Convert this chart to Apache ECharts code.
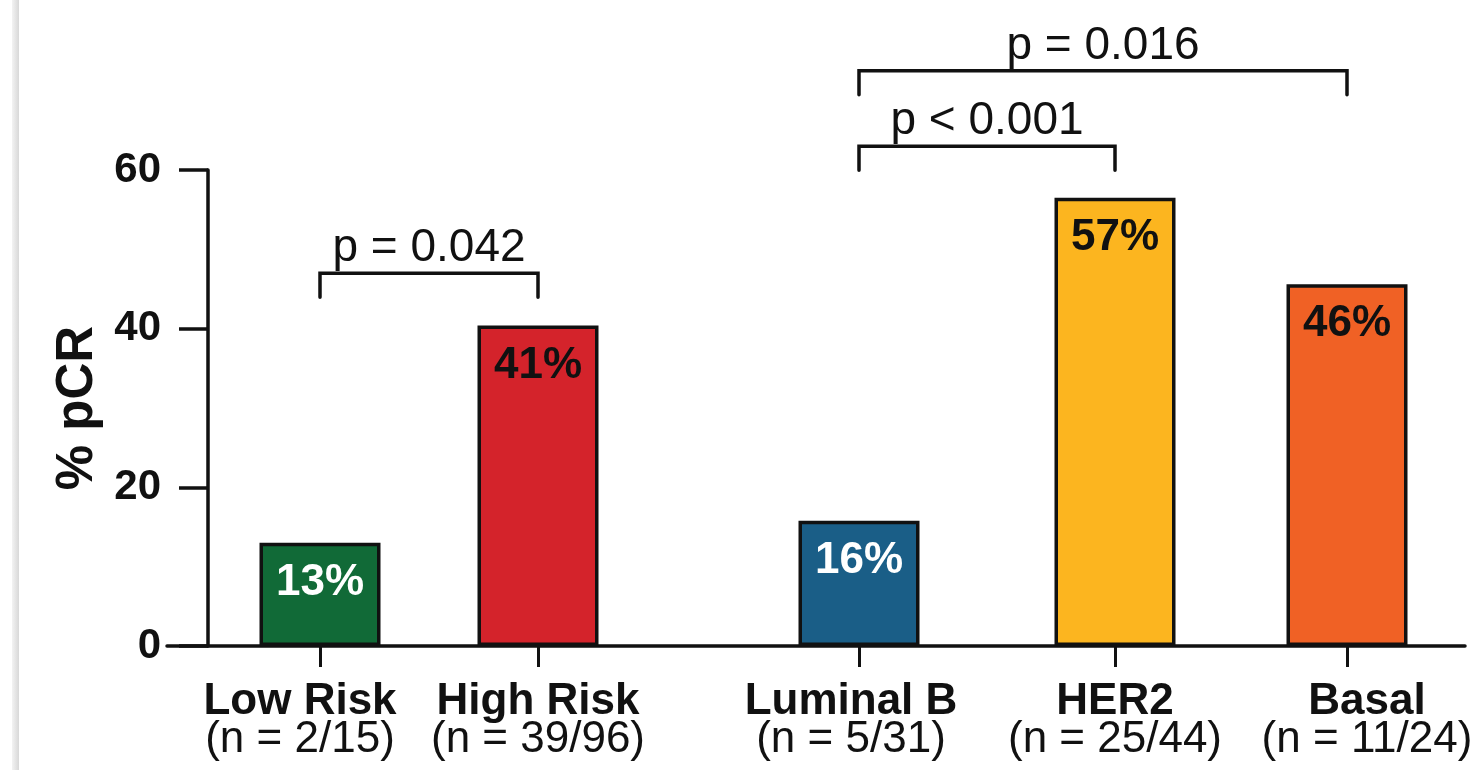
<!DOCTYPE html>
<html>
<head>
<meta charset="utf-8">
<script src="https://cdn.jsdelivr.net/npm/echarts@6/dist/echarts.min.js"></script>
<style>
  html, body { margin: 0; padding: 0; background: #fff; }
  #chart { width: 1483px; height: 770px; }
</style>
</head>
<body>
<div id="chart"></div>
<script>
// ---- data ----
const categories = ['Low Risk', 'High Risk', 'Luminal B', 'HER2', 'Basal'];
const nLabels = ['2/15', '39/96', '5/31', '25/44', '11/24'];
const pcrValues = [13.0, 40.4, 15.8, 56.5, 45.6];
const pcrLabels = ['13%', '41%', '16%', '57%', '46%'];
const yTicks = [0, 20, 40, 60];
const pTexts = ['p = 0.042', 'p < 0.001', 'p = 0.016'];
const pFrom = [0, 2, 2];
const pTo = [1, 3, 4];
const pLevel = [47.0, 63.0, 72.5];

// ---- layout / style ----
const slotX = [1.12, 3.30, 6.51, 9.07, 11.39]; // horizontal slot of each group on the layout axis
const labelShift = [-20, 0, -8, 0, 20];        // px nudge of each category label
const barColors = ['#116a37', '#d4232b', '#1a5e87', '#fcb51f', '#f06125'];
const labelColors = ['#ffffff', '#111111', '#ffffff', '#111111', '#111111'];
const FONT = '"Liberation Sans", Arial, Helvetica, sans-serif';
const INK = '#111111';

const chart = echarts.init(document.getElementById('chart'), null, { renderer: 'canvas' });

const barData = pcrValues.map((v, i) => ({
  value: [slotX[i], v],
  itemStyle: { color: barColors[i] },
  label: { color: labelColors[i] }
}));

const bracketData = pFrom.map((f, i) => [slotX[f], slotX[pTo[i]], pLevel[i]]);

function nearestIndex(v) {
  let best = 0;
  for (let i = 1; i < slotX.length; i++) {
    if (Math.abs(slotX[i] - v) < Math.abs(slotX[best] - v)) best = i;
  }
  return best;
}

const rich = {};
labelShift.forEach((s, i) => {
  const pad = [0, -s, 0, s];
  rich['b' + i] = { fontFamily: FONT, fontSize: 44, fontWeight: 'bold', color: INK, lineHeight: 38, padding: pad };
  rich['n' + i] = { fontFamily: FONT, fontSize: 44, fontWeight: 'normal', color: INK, lineHeight: 38, padding: pad };
});

const option = {
  backgroundColor: '#ffffff',
  animation: false,
  textStyle: { fontFamily: FONT },
  grid: { left: 167, right: 18, top: 170, bottom: 124, containLabel: false, outerBoundsMode: 'none' },
  xAxis: {
    type: 'value',
    min: -0.41,
    max: 12.57,
    splitLine: { show: false },
    axisLine: { show: true, onZero: true, lineStyle: { color: INK, width: 3.5 } },
    axisTick: { show: true, customValues: slotX, interval: 0, length: 21, lineStyle: { color: INK, width: 3 } },
    axisLabel: {
      show: true,
      customValues: slotX,
      interval: 0,
      hideOverlap: false,
      showMinLabel: true,
      showMaxLabel: true,
      margin: 37,
      formatter: function (v) {
        const i = nearestIndex(v);
        return '{b' + i + '|' + categories[i] + '}\n{n' + i + '|(n = ' + nLabels[i] + ')}';
      },
      rich: rich
    }
  },
  yAxis: {
    type: 'value',
    min: 0,
    max: 60,
    interval: 20,
    splitLine: { show: false },
    axisLine: { show: true, onZero: true, lineStyle: { color: INK, width: 3.5 } },
    axisTick: { show: true, length: 29, lineStyle: { color: INK, width: 3.5 } },
    axisLabel: {
      margin: 6,
      fontFamily: FONT, fontSize: 42, fontWeight: 'bold', color: INK,
      formatter: function (v) { return yTicks.indexOf(v) >= 0 ? String(v) : ''; }
    },
    name: '% pCR',
    nameLocation: 'middle',
    nameGap: 62,
    nameTextStyle: { fontFamily: FONT, fontSize: 51, fontWeight: 'bold', color: INK }
  },
  graphic: [{
    type: 'rect',
    shape: { x: 12, y: 0, width: 7, height: 770 },
    style: {
      fill: new echarts.graphic.LinearGradient(0, 0, 1, 0, [
        { offset: 0, color: '#f3f3f3' },
        { offset: 1, color: '#d8d8d8' }
      ])
    },
    silent: true
  }],
  series: [
    {
      type: 'bar',
      data: barData,
      barWidth: 121,
      itemStyle: { borderColor: INK, borderWidth: 3.5 },
      label: {
        show: true,
        position: 'insideTop',
        distance: 18,
        fontFamily: FONT,
        fontSize: 44,
        fontWeight: 'bold',
        formatter: function (p) { return pcrLabels[p.dataIndex]; }
      },
      z: 2
    },
    {
      type: 'custom',
      clip: false,
      data: bracketData,
      renderItem: function (params, api) {
        const a = api.coord([api.value(0), api.value(2)]);
        const b = api.coord([api.value(1), api.value(2)]);
        const drop = 24;
        return {
          type: 'group',
          children: [
            {
              type: 'polyline',
              shape: { points: [[a[0], a[1] + drop], [a[0], a[1]], [b[0], b[1]], [b[0], b[1] + drop]] },
              style: { stroke: INK, lineWidth: 3.5, fill: null, lineJoin: 'miter', lineCap: 'round' }
            },
            {
              type: 'text',
              style: {
                x: (a[0] + b[0]) / 2,
                y: a[1] - 2,
                text: pTexts[params.dataIndex],
                align: 'center',
                verticalAlign: 'bottom',
                font: 'normal 46px ' + FONT,
                fill: INK
              }
            }
          ]
        };
      },
      z: 3
    }
  ]
};

chart.setOption(option);
</script>
</body>
</html>
